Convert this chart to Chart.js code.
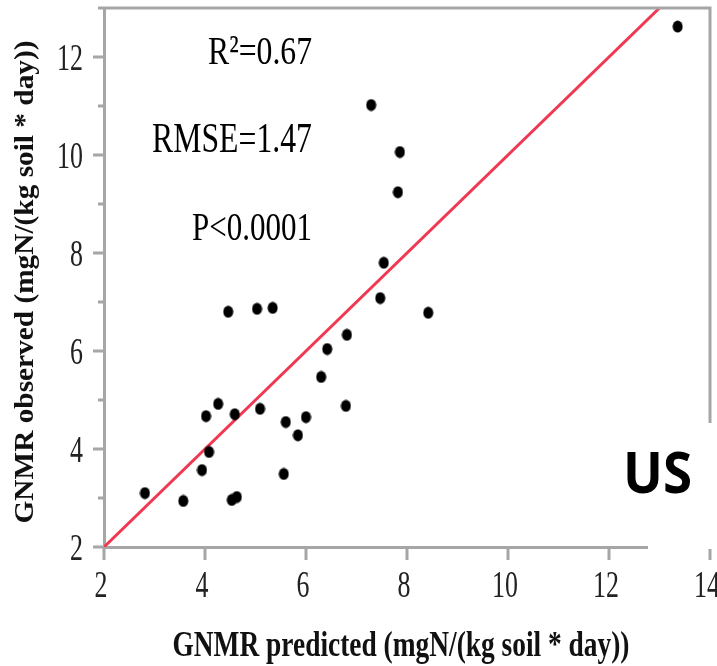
<!DOCTYPE html>
<html>
<head>
<meta charset="utf-8">
<script src="https://cdn.jsdelivr.net/npm/chart.js@4.4.1/dist/chart.umd.min.js"></script>
<style>
  html, body { margin: 0; padding: 0; background: #fff; }
  #wrap { width: 717px; height: 666px; position: relative; }
</style>
</head>
<body>
<div id="wrap"><canvas id="my-chart"></canvas></div>
<script>
'use strict';

// ***** DATA *****
let predicted = [13.36, 7.29, 7.86, 7.82, 7.54, 7.47, 8.42, 4.46, 5.03, 5.34, 6.81, 6.42, 6.30, 6.79,
  4.26, 4.02, 4.59, 5.09, 5.60, 6.00, 5.84, 4.08, 3.94, 5.56, 2.81, 3.57, 4.53, 4.63];
let observed = [12.62, 11.02, 10.06, 9.24, 7.80, 7.08, 6.78, 6.80, 6.86, 6.88, 6.33, 6.04, 5.47, 4.88,
  4.92, 4.67, 4.71, 4.82, 4.55, 4.65, 4.28, 3.94, 3.57, 3.49, 3.10, 2.94, 2.96, 3.02];
let oneToOne = [2, 13];
let xTicks = [2, 4, 6, 8, 10, 12, 14];
let yTicks = [2, 4, 6, 8, 10, 12];
let yMinorTicks = [3, 5, 7, 9, 11];
let statLabels = ['R\u00B2=0.67', 'RMSE=1.47', 'P<0.0001'];
let xTitle = 'GNMR predicted (mgN/(kg soil * day))';
let yTitle = 'GNMR observed (mgN/(kg soil * day))';
let panelLabel = 'US';

// ***** STYLE *****
let axisGray = '#a6a6a6';
let lineRed = 'rgb(240, 56, 82)';
let serif = '"Liberation Serif", "Times New Roman", serif';

// ***** HELPERS *****
function makeDot() {
  let c = document.createElement('canvas');
  c.width = 11;
  c.height = 13;
  let g = c.getContext('2d');
  g.fillStyle = '#000';
  g.beginPath();
  g.ellipse(5.5, 6.5, 5, 6, 0, 0, Math.PI * 2);
  g.fill();
  return c;
}

// draws text squeezed horizontally to a width (or by a factor)
function drawFit(c, text, x, y, o) {
  c.save();
  c.font = (o.weight || 'normal') + ' ' + o.size + 'px ' + (o.family || serif);
  let w = c.measureText(text).width;
  let sx = o.width ? o.width / w : (o.sx || 1);
  c.translate(x, y);
  if (o.rotate) c.rotate(o.rotate);
  c.scale(sx, 1);
  c.textAlign = o.align || 'left';
  c.textBaseline = 'alphabetic';
  c.fillStyle = o.color || '#000';
  c.fillText(text, 0, 0);
  c.restore();
}

let points = predicted.map((p, i) => ({ x: p, y: observed[i] }));

let decorations = {
  id: 'decorations',
  afterDraw(chart) {
    let c = chart.ctx;
    let a = chart.chartArea;
    let xs = chart.scales.x;
    let ys = chart.scales.y;

    c.save();
    c.strokeStyle = axisGray;
    c.lineWidth = 3;
    c.beginPath();
    // frame top + right
    c.moveTo(98, a.top);
    c.lineTo(a.right, a.top);
    c.lineTo(a.right, a.bottom);
    // y ticks
    yTicks.forEach(v => {
      let py = ys.getPixelForValue(v);
      c.moveTo(a.left - 11, py);
      c.lineTo(a.left, py);
    });
    yMinorTicks.forEach(v => {
      let py = ys.getPixelForValue(v);
      c.moveTo(a.left - 6, py);
      c.lineTo(a.left, py);
    });
    // x ticks
    xTicks.forEach(v => {
      let px = xs.getPixelForValue(v);
      c.moveTo(px, a.bottom);
      c.lineTo(px, a.bottom + 13);
    });
    c.stroke();
    c.restore();

    // tick labels
    yTicks.forEach(v => {
      drawFit(c, String(v), 83, ys.getPixelForValue(v) + 12.5,
        { size: 37, sx: 0.7, align: 'right', color: '#222' });
    });
    xTicks.forEach(v => {
      drawFit(c, String(v), xs.getPixelForValue(v) - 3, 597,
        { size: 37, sx: 0.7, align: 'center', color: '#222' });
    });

    // stats
    drawFit(c, statLabels[0], 312, 64, { size: 41, width: 104, align: 'right' });
    drawFit(c, statLabels[1], 312, 152, { size: 43, width: 160, align: 'right' });
    drawFit(c, statLabels[2], 312, 240, { size: 41, width: 120, align: 'right' });

    // axis titles
    drawFit(c, xTitle, 401, 656, { size: 35, weight: 'bold', width: 457, align: 'center', color: '#111' });
    drawFit(c, yTitle, 33, 282, { size: 27, weight: 'bold', width: 483, align: 'center',
      rotate: -Math.PI / 2, color: '#111' });

    // pasted panel label box
    c.save();
    c.fillStyle = '#fff';
    c.fillRect(648, 423, 717 - 648, 549 - 423);
    c.restore();
    drawFit(c, panelLabel, 623, 493, { size: 57, width: 69, weight: 'bold',
      family: '"Open Sans", "Liberation Sans", sans-serif' });
  }
};

// ***** CHART *****
let ctx = document.getElementById('my-chart');

new Chart(ctx, {
  type: 'scatter',
  data: {
    datasets: [
      {
        label: 'observed',
        data: points,
        pointStyle: makeDot(),
        pointRadius: 6,
        order: 0
      },
      {
        type: 'line',
        label: '1:1',
        data: oneToOne.map(v => ({ x: v, y: v })),
        borderColor: lineRed,
        borderWidth: 3,
        pointRadius: 0,
        fill: false,
        order: 1
      }
    ]
  },
  options: {
    responsive: true,
    maintainAspectRatio: false,
    animation: false,
    layout: { padding: { left: 104, right: 7, top: 8, bottom: 119 } },
    plugins: {
      legend: { display: false },
      tooltip: { enabled: false }
    },
    scales: {
      x: {
        type: 'linear',
        min: 2,
        max: 14,
        grid: { display: false, drawTicks: false },
        ticks: { display: false },
        border: { display: true, color: axisGray, width: 3 }
      },
      y: {
        type: 'linear',
        min: 2,
        max: 13,
        grid: { display: false, drawTicks: false },
        ticks: { display: false },
        border: { display: true, color: axisGray, width: 3 }
      }
    }
  },
  plugins: [decorations]
});
</script>
</body>
</html>
